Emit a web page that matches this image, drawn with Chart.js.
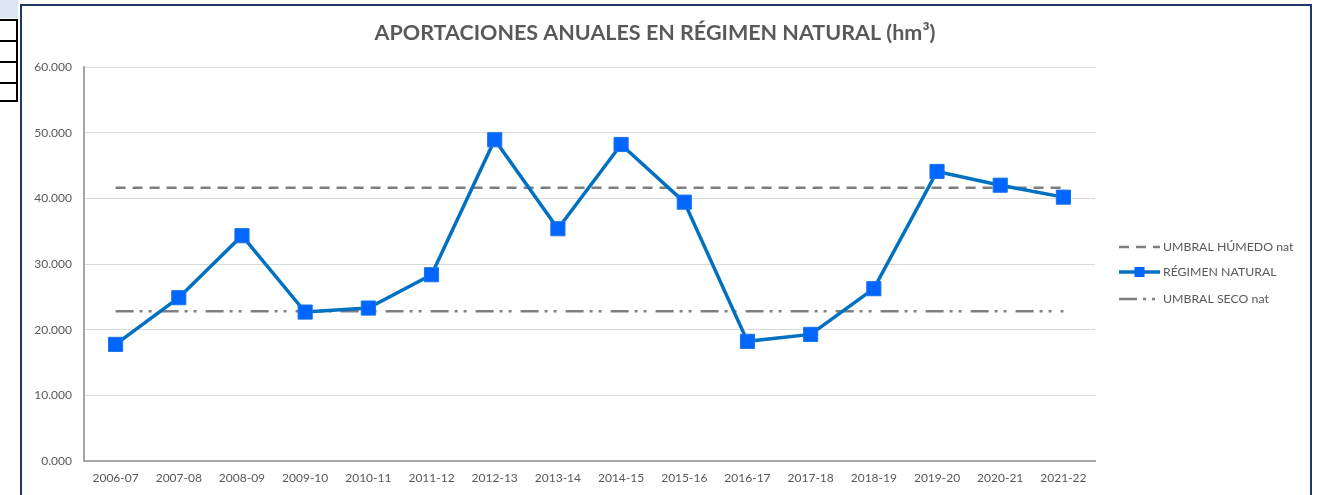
<!DOCTYPE html>
<html>
<head>
<meta charset="utf-8">
<script src="https://cdn.jsdelivr.net/npm/chart.js@4"></script>
<style>
  html, body { margin: 0; padding: 0; background: #fff; overflow: hidden; }
  body { width: 1326px; height: 495px; position: relative; }
  .celda { position: absolute; left: 0; width: 16px; border: 2px solid #000; border-left: none; box-sizing: content-box; }
  #cabecera { position: absolute; left: 0; top: 0; width: 18px; height: 18px; background: #dce6f1; }
  #marco { position: absolute; left: 20px; top: 4px; width: 1288px; height: 500px; border: 2px solid #1f3864; }
  #caja { position: absolute; left: 22px; top: 6px; width: 1287px; height: 489px; }
</style>
</head>
<body>
<div id="cabecera"></div>
<div class="celda" style="top:19px;height:19px"></div>
<div class="celda" style="top:40px;height:19px"></div>
<div class="celda" style="top:61px;height:19px"></div>
<div class="celda" style="top:82px;height:18px;border-top:none"></div>
<div id="marco"></div>
<div id="caja"><canvas id="grafico"></canvas></div>

<script>
// datos (hm3)
const campanas = ['2006-07','2007-08','2008-09','2009-10','2010-11','2011-12','2012-13','2013-14',
                  '2014-15','2015-16','2016-17','2017-18','2018-19','2019-20','2020-21','2021-22'];
const regimenNatural = [17760, 24870, 34310, 22680, 23290, 28370, 48920, 35370,
                        48200, 39420, 18220, 19280, 26240, 44090, 42000, 40180];
const umbralHumedo = [41600, 41600, 41600, 41600, 41600, 41600, 41600, 41600,
                      41600, 41600, 41600, 41600, 41600, 41600, 41600, 41600];
const umbralSeco = [22800, 22800, 22800, 22800, 22800, 22800, 22800, 22800,
                    22800, 22800, 22800, 22800, 22800, 22800, 22800, 22800];
const ticksY = [0, 10000, 20000, 30000, 40000, 50000, 60000];
const titulo = 'APORTACIONES ANUALES EN RÉGIMEN NATURAL (hm³)';

const GRIS = '#595959';
const FUENTE = 'Lato, "Open Sans", sans-serif';

// titulo y leyenda dibujados a mano (el titulo va centrado en todo el marco)
const rotulosPlugin = {
  id: 'rotulos',
  afterDraw(chart) {
    const ctx = chart.ctx;
    ctx.save();
    ctx.fillStyle = GRIS;
    ctx.font = 'bold 21.5px ' + FUENTE;
    ctx.textAlign = 'center';
    ctx.textBaseline = 'middle';
    ctx.fillText(titulo, 633, 27);

    const x0 = 1097, x1 = 1138;
    const filas = [{ ds: 0, y: 241 }, { ds: 1, y: 266 }, { ds: 2, y: 293 }];
    ctx.textAlign = 'left';
    filas.forEach(f => {
      const d = chart.data.datasets[f.ds];
      ctx.beginPath();
      ctx.setLineDash(d.borderDash || []);
      ctx.lineWidth = d.borderWidth;
      ctx.strokeStyle = d.borderColor;
      ctx.moveTo(x0, f.y);
      ctx.lineTo(x1, f.y);
      ctx.stroke();
      ctx.setLineDash([]);
      if (d.pointRadius > 0) {
        ctx.fillStyle = d.pointBackgroundColor;
        ctx.fillRect((x0 + x1) / 2 - 5, f.y - 5, 10, 10);
      }
      ctx.fillStyle = GRIS;
      ctx.font = '12.3px ' + FUENTE;
      ctx.fillText(d.label, x1 + 3, f.y);
    });
    ctx.restore();
  }
};

const ctx = document.getElementById('grafico');
const myChart = new Chart(ctx, {
  type: 'line',
  data: {
    labels: campanas,
    datasets: [
      {
        label: 'UMBRAL HÚMEDO nat',
        data: umbralHumedo,
        borderColor: '#7f7f7f',
        borderWidth: 2.5,
        borderDash: [10, 7],
        pointRadius: 0,
        order: 2
      },
      {
        label: 'RÉGIMEN NATURAL',
        data: regimenNatural,
        borderColor: '#0070c0',
        borderWidth: 3.5,
        pointStyle: 'rect',
        pointRadius: 10,
        pointBackgroundColor: '#0066ff',
        pointBorderColor: '#1a75e8',
        pointBorderWidth: 1,
        tension: 0,
        order: 0
      },
      {
        label: 'UMBRAL SECO nat',
        data: umbralSeco,
        borderColor: '#7f7f7f',
        borderWidth: 2.5,
        borderDash: [18, 6, 3, 6, 3, 9],
        pointRadius: 0,
        order: 1
      }
    ]
  },
  options: {
    responsive: true,
    maintainAspectRatio: false,
    animation: false,
    layout: { padding: { left: 0, right: 214, top: 61, bottom: 0 } },
    plugins: {
      legend: { display: false },
      tooltip: { enabled: false },
      title: { display: false }
    },
    scales: {
      x: {
        offset: true,
        grid: { display: false, drawTicks: false },
        border: { color: '#a6a6a6', width: 2 },
        ticks: { color: GRIS, font: { family: FUENTE, size: 12 }, padding: 10, maxRotation: 0 },
        afterFit(scale) { scale.height = 34; }
      },
      y: {
        min: 0,
        max: 60000,
        afterBuildTicks(scale) { scale.ticks = ticksY.map(v => ({ value: v })); },
        grid: { color: '#d9d9d9', lineWidth: 1, drawTicks: false },
        border: { color: '#a6a6a6', width: 2 },
        ticks: {
          color: GRIS,
          font: { family: FUENTE, size: 12 },
          padding: 12,
          callback: v => (v / 1000).toFixed(3)
        },
        afterFit(scale) { scale.width = 62; }
      }
    }
  },
  plugins: [rotulosPlugin]
});
</script>
</body>
</html>
